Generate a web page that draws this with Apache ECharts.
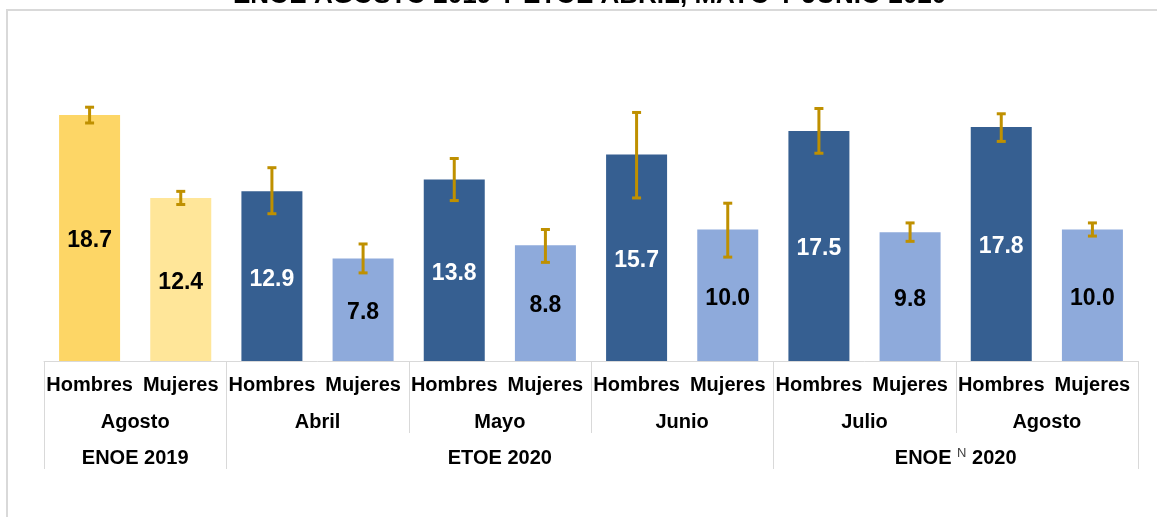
<!DOCTYPE html>
<html>
<head>
<meta charset="utf-8">
<script src="https://cdn.jsdelivr.net/npm/echarts@6/dist/echarts.min.js"></script>
<style>
html, body { margin: 0; padding: 0; background: #fff; }
#chart { width: 1157px; height: 517px; }
</style>
</head>
<body>
<div id="chart"></div>
<script>
// datos
const categories = ["Hombres", "Mujeres", "Hombres", "Mujeres", "Hombres", "Mujeres",
    "Hombres", "Mujeres", "Hombres", "Mujeres", "Hombres", "Mujeres"];
const months = ["Agosto", "Abril", "Mayo", "Junio", "Julio", "Agosto"];
const surveyLabels = ["ENOE 2019", "ETOE 2020", "ENOE|N|2020"];
const surveySpans = [2, 6, 4];
const values = [18.7, 12.4, 12.9, 7.8, 13.8, 8.8, 15.7, 10.0, 17.5, 9.8, 17.8, 10.0];
const errLow = [18.1, 11.9, 11.2, 6.7, 12.2, 7.5, 12.4, 7.9, 15.8, 9.1, 16.7, 9.5];
const errHigh = [19.3, 12.9, 14.7, 8.9, 15.4, 10.0, 18.9, 12.0, 19.2, 10.5, 18.8, 10.5];

const FONT = '"Liberation Sans", Arial, sans-serif';
const chart = echarts.init(document.getElementById("chart"));

// colores: amarillo para 2019, azul para 2020
const barColor = i => {
    const men = i % 2 === 0;
    if (i < surveySpans[0]) return men ? "#fdd666" : "#ffe699";
    return men ? "#365f91" : "#8eaadb";
};
const labelColor = i => (i >= surveySpans[0] && i % 2 === 0 ? "#fff" : "#000");

chart.setOption({
    animation: false,
    title: {
        text: "ENOE AGOSTO 2019 Y ETOE ABRIL, MAYO Y JUNIO 2020",
        left: 228,
        top: -22,
        textStyle: { fontFamily: FONT, fontSize: 26, fontWeight: "bold", color: "#000" }
    },
    grid: { left: 44, right: 19, top: 98, bottom: 156 },
    xAxis: {
        type: "category",
        data: categories,
        axisLine: { lineStyle: { color: "#d9d9d9", width: 1 } },
        axisTick: { show: false },
        axisLabel: {
            interval: 0,
            margin: 14,
            color: "#000",
            fontFamily: FONT,
            fontSize: 20,
            fontWeight: "bold"
        }
    },
    yAxis: { type: "value", min: 0, max: 20, show: false },
    series: [
        {
            type: "bar",
            barWidth: 61,
            data: values.map((v, i) => ({
                value: v,
                itemStyle: { color: barColor(i) },
                label: { color: labelColor(i) }
            })),
            label: {
                show: true,
                position: "inside",
                offset: [0, 3],
                formatter: p => p.value.toFixed(1),
                fontFamily: FONT,
                fontSize: 23,
                fontWeight: "bold"
            }
        },
        {
            type: "custom",
            z: 10,
            encode: { x: 0, y: [1, 2] },
            data: values.map((v, i) => [i, errLow[i], errHigh[i]]),
            renderItem: (params, api) => {
                const lo = api.coord([api.value(0), api.value(1)]);
                const hi = api.coord([api.value(0), api.value(2)]);
                const w = 4.5;
                const style = { stroke: "#bf9000", lineWidth: 3 };
                return {
                    type: "group",
                    children: [
                        { type: "line", shape: { x1: hi[0], y1: hi[1], x2: lo[0], y2: lo[1] }, style },
                        { type: "line", shape: { x1: hi[0] - w, y1: hi[1], x2: hi[0] + w, y2: hi[1] }, style },
                        { type: "line", shape: { x1: lo[0] - w, y1: lo[1], x2: lo[0] + w, y2: lo[1] }, style }
                    ]
                };
            }
        }
    ]
});

// etiquetas de mes y encuesta, y líneas separadoras, a partir del eje
const x0 = chart.convertToPixel({ xAxisIndex: 0 }, 0);
const band = chart.convertToPixel({ xAxisIndex: 0 }, 1) - x0;
const left = x0 - band / 2;
const axisY = chart.convertToPixel({ yAxisIndex: 0 }, 0);
const rowH = 36;
const edge = k => left + k * band;
const textStyle = { fontFamily: FONT, fontSize: 20, fontWeight: "bold", fill: "#000" };
const lineStyle = { stroke: "#d9d9d9", lineWidth: 1 };

const graphics = [
    { type: "rect", shape: { x: 7, y: 10, width: 1300, height: 700 }, style: { fill: null, stroke: "#d9d9d9", lineWidth: 2 } }
];

months.forEach((m, k) => {
    graphics.push({
        type: "text",
        x: edge(2 * k + 1),
        y: axisY + 25 + rowH,
        style: { ...textStyle, text: m, align: "center", verticalAlign: "middle" }
    });
});

const surveyEdges = [0];
surveySpans.forEach(s => surveyEdges.push(surveyEdges[surveyEdges.length - 1] + s));

for (let k = 0; k <= categories.length; k += 2) {
    const full = surveyEdges.includes(k);
    const x = Math.round(edge(k)) + 0.5;
    graphics.push({
        type: "line",
        shape: { x1: x, y1: axisY, x2: x, y2: axisY + (full ? 3 : 2) * rowH },
        style: lineStyle
    });
}

surveyLabels.forEach((s, k) => {
    const mid = (surveyEdges[k] + surveyEdges[k + 1]) / 2;
    const parts = s.split("|");
    const text = parts.length === 3
        ? "{b|" + parts[0] + " }{sup|" + parts[1] + "}{b| " + parts[2] + "}"
        : "{b|" + s + "}";
    graphics.push({
        type: "text",
        x: edge(mid),
        y: axisY + 25 + 2 * rowH,
        style: {
            text,
            align: "center",
            verticalAlign: "middle",
            rich: {
                b: { ...textStyle },
                sup: { fontFamily: FONT, fontSize: 13, fill: "#404040", verticalAlign: "top", padding: [0, 0, 10, 0] }
            }
        }
    });
});

chart.setOption({ graphic: graphics });
</script>
</body>
</html>
